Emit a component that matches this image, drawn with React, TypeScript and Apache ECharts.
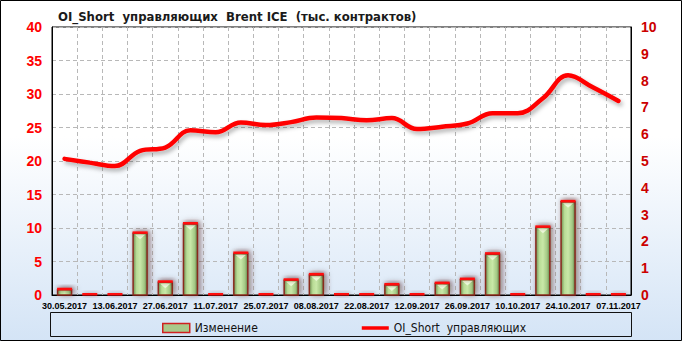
import React, { useEffect, useRef } from 'react';
import * as echarts from 'echarts';

const categories = [
  '30.05.2017', '06.06.2017', '13.06.2017', '20.06.2017', '27.06.2017', '04.07.2017',
  '11.07.2017', '18.07.2017', '25.07.2017', '01.08.2017', '08.08.2017', '15.08.2017',
  '22.08.2017', '05.09.2017', '12.09.2017', '19.09.2017', '26.09.2017', '03.10.2017',
  '10.10.2017', '17.10.2017', '24.10.2017', '31.10.2017', '07.11.2017',
];

const changeValues = [
  0.8, 0, 0, 9.2, 1.9, 10.6, 0, 6.2, 0, 2.2, 3.0, 0,
  0, 1.5, 0, 1.7, 2.3, 6.1, 0, 10.1, 13.9, 0, 0,
];

const shortValues = [
  5.08, 4.94, 4.81, 5.38, 5.5, 6.15, 6.07, 6.44, 6.34, 6.45, 6.62, 6.6,
  6.52, 6.6, 6.19, 6.28, 6.4, 6.78, 6.78, 7.34, 8.2, 7.74, 7.24,
];

const titleText = 'OI_Short  управляющих  Brent ICE  (тыс. контрактов)';
const barName = 'Изменение';
const lineName = 'OI_Short  управляющих';

const BAR_W = 14;

function barFill() {
  return new echarts.graphic.LinearGradient(0, 0, 1, 0, [
    { offset: 0, color: '#6f8f52' },
    { offset: 0.25, color: '#b9dc96' },
    { offset: 0.5, color: '#c9e8a8' },
    { offset: 0.8, color: '#a3c884' },
    { offset: 1, color: '#62824a' },
  ]);
}

function renderBar(params: any, api: any) {
  const idx = api.value(0);
  const v = api.value(1);
  const top = api.coord([idx, v]);
  const base = api.coord([idx, 0]);
  const x = top[0] - BAR_W / 2;
  const h = base[1] - top[1];
  const children: any[] = [];
  if (h > 1) {
    children.push({
      type: 'rect',
      shape: { x: x, y: top[1], width: BAR_W, height: h },
      style: {
        fill: barFill(),
        stroke: '#8a2a1e',
        lineWidth: 1.5,
        shadowColor: 'rgba(60,10,0,0.55)',
        shadowBlur: 6,
        shadowOffsetX: 2,
        shadowOffsetY: -1,
      },
    });
    if (h > 6) {
      children.push({
        type: 'polygon',
        shape: {
          points: [
            [x + 2, top[1] + 1.5],
            [x + BAR_W - 2, top[1] + 1.5],
            [x + BAR_W / 2, top[1] + 6],
          ],
        },
        style: { fill: '#eaf7d8' },
      });
    }
  }
  children.push({
    type: 'rect',
    shape: { x: x - 0.5, y: top[1] - 2, width: BAR_W + 1, height: 2.5 },
    style: {
      fill: '#ff1010',
      shadowColor: 'rgba(60,10,0,0.4)',
      shadowBlur: 4,
      shadowOffsetX: 1,
    },
  });
  return { type: 'group', children };
}

export default function App() {
  const ref = useRef<HTMLDivElement>(null);

  useEffect(() => {
    document.body.style.margin = '0';
    const chart = echarts.init(ref.current as HTMLDivElement, null, { renderer: 'svg' });
    chart.setOption({
      animation: false,
      backgroundColor: new echarts.graphic.LinearGradient(0, 0, 0, 1, [
        { offset: 0, color: '#ffffff' },
        { offset: 0.4, color: '#ffffff' },
        { offset: 1, color: '#d4e4f6' },
      ]),
      title: {
        text: titleText,
        left: 53,
        top: 5,
        textStyle: {
          fontFamily: 'DejaVu Sans Condensed',
          fontSize: 13,
          fontWeight: 'bold',
          color: '#1a1a1a',
        },
      },
      grid: {
        left: 52,
        right: 51,
        top: 27,
        bottom: 46,
        show: true,
        borderColor: '#000',
        borderWidth: 1,
        backgroundColor: 'transparent',
      },
      legend: {
        left: 157,
        top: 317,
        itemWidth: 27,
        itemHeight: 9,
        itemGap: 104,
        textStyle: {
          fontFamily: 'DejaVu Sans Condensed',
          fontSize: 12,
          color: '#111',
        },
        data: [
          {
            name: barName,
            icon: 'rect',
            itemStyle: {
              color: '#a9c98a',
              borderColor: '#d02020',
              borderWidth: 1.5,
            },
          },
          {
            name: lineName,
            icon: 'path://M0,0L0,0.01M0,2.6L28,2.6L28,6.4L0,6.4ZM0,9L0,9.01',
            itemStyle: { color: '#ff0000' },
          },
        ],
      },
      xAxis: {
        type: 'category',
        data: categories,
        boundaryGap: true,
        axisLine: { show: true, lineStyle: { color: '#000', width: 1 } },
        axisTick: { show: false },
        axisLabel: {
          interval: 1,
          margin: 6,
          showMinLabel: true,
          showMaxLabel: true,
          hideOverlap: false,
          fontFamily: 'Liberation Sans',
          fontSize: 9,
          fontWeight: 'bold',
          color: '#000',
        },
        splitLine: {
          show: true,
          interval: 0,
          lineStyle: { color: '#b8b8b8', type: [4, 3], width: 1 },
        },
      },
      yAxis: [
        {
          type: 'value',
          min: 0,
          max: 40,
          interval: 5,
          position: 'left',
          axisLine: { show: true, lineStyle: { color: '#000', width: 1 } },
          axisTick: { show: false },
          axisLabel: {
            margin: 10,
            fontFamily: 'Liberation Sans',
            fontSize: 14,
            fontWeight: 'bold',
            color: '#ff0000',
          },
          splitLine: {
            show: true,
            lineStyle: { color: '#b8b8b8', type: [4, 3], width: 1 },
          },
        },
        {
          type: 'value',
          min: 0,
          max: 10,
          interval: 1,
          position: 'right',
          axisLine: { show: true, lineStyle: { color: '#000', width: 1 } },
          axisTick: { show: false },
          axisLabel: {
            margin: 10,
            fontFamily: 'Liberation Sans',
            fontSize: 14,
            fontWeight: 'bold',
            color: '#cc0000',
          },
          splitLine: { show: false },
        },
      ],
      graphic: [
        {
          type: 'rect',
          shape: { x: 0.5, y: 0.5, width: 681, height: 340 },
          style: { fill: 'none', stroke: '#000', lineWidth: 1 },
          silent: true,
          z: 100,
        },
        {
          type: 'rect',
          shape: { x: 50.5, y: 312.5, width: 581, height: 24 },
          style: { fill: 'none', stroke: '#111', lineWidth: 1 },
          silent: true,
          z: 1,
        },
      ],
      series: [
        {
          name: barName,
          type: 'custom',
          yAxisIndex: 0,
          data: changeValues.map((v, i) => [i, v]),
          encode: { x: 0, y: 1 },
          renderItem: renderBar,
          itemStyle: { color: '#a9c98a' },
          clip: false,
          z: 2,
        },
        {
          name: lineName,
          type: 'line',
          yAxisIndex: 1,
          data: shortValues,
          smooth: 0.4,
          showSymbol: false,
          symbol: 'none',
          lineStyle: {
            color: '#ff0000',
            width: 4.5,
            cap: 'round',
            shadowColor: 'rgba(0,0,0,0.3)',
            shadowBlur: 4,
            shadowOffsetX: 2,
            shadowOffsetY: 3,
          },
          itemStyle: { color: '#ff0000' },
          z: 3,
        },
      ],
    });
    return () => chart.dispose();
  }, []);

  return <div ref={ref} style={{ width: 682, height: 341 }} />;
}
